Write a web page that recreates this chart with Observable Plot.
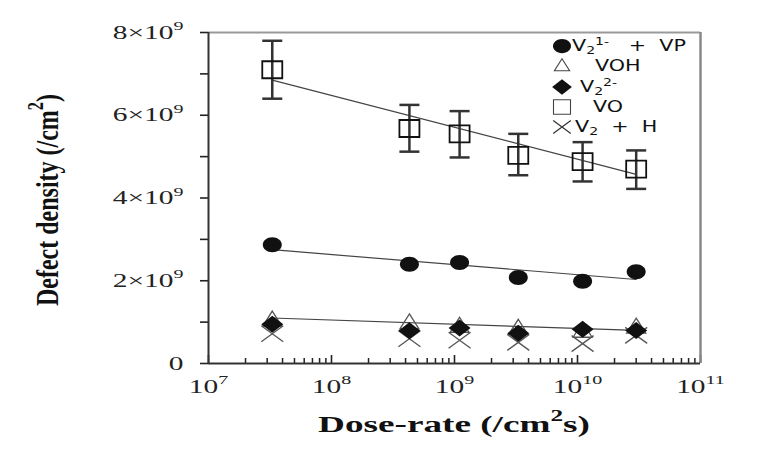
<!DOCTYPE html>
<html><head><meta charset="utf-8">
<script src="https://cdn.jsdelivr.net/npm/d3@7"></script>
<script src="https://cdn.jsdelivr.net/npm/@observablehq/plot@0.6"></script>
<style>body{margin:0;background:#fff}</style>
</head><body><div id="chart"></div>
<script>
// ---- data ----
const dose   = [3.3e7, 4.3e8, 1.1e9, 3.3e9, 1.1e10, 3.0e10];
const vo     = [7.1e9, 5.68e9, 5.55e9, 5.03e9, 4.88e9, 4.7e9];
const voHigh = [7.8e9, 6.25e9, 6.1e9, 5.55e9, 5.35e9, 5.15e9];
const voLow  = [6.4e9, 5.12e9, 4.98e9, 4.55e9, 4.4e9, 4.22e9];
const v2vp   = [2.87e9, 2.4e9, 2.44e9, 2.08e9, 1.99e9, 2.22e9];
const voh    = [1.05e9, 0.98e9, 0.9e9, 0.85e9, 0.78e9, 0.88e9];
const v2m2   = [0.95e9, 0.79e9, 0.86e9, 0.73e9, 0.83e9, 0.8e9];
const v2h    = [0.72e9, 0.6e9, 0.56e9, 0.51e9, 0.48e9, 0.68e9];
const fitX    = [3.3e7, 3.0e10];
const voFit   = [6.85e9, 4.57e9];
const v2vpFit = [2.75e9, 2.03e9];
const lowFit  = [1.1e9, 0.8e9];
const xMajorTicks = [1e7, 1e8, 1e9, 1e10, 1e11];
const xTickLabels = ["10^{7}", "10^{8}", "10^{9}", "10^{10}", "10^{11}"];
const xMinorTicks = [7, 8, 9, 10].flatMap(e => [2,3,4,5,6,7,8,9].map(m => m * 10 ** e));
const yMajorTicks = [0, 2e9, 4e9, 6e9, 8e9];
const yTickLabels = ["0", "2×10^{9}", "4×10^{9}", "6×10^{9}", "8×10^{9}"];
const yMinorTicks = [1e9, 3e9, 5e9, 7e9];
const legendLabels = ["V_{2}^{1-}   +  VP", "VOH", "V_{2}^{2-}", "VO", "V_{2}  +  H"];
const xTitle = "Dose-rate (/cm^{2}s)";
const yTitle = "Defect density (/cm^{2})";

const idx = d3.range(dose.length);

// ---- custom symbols ----
const ellipseSym = {draw(c){const rx=9.5, ry=7.5, k=0.5523;
  c.moveTo(rx,0); c.bezierCurveTo(rx,ry*k,rx*k,ry,0,ry); c.bezierCurveTo(-rx*k,ry,-rx,ry*k,-rx,0);
  c.bezierCurveTo(-rx,-ry*k,-rx*k,-ry,0,-ry); c.bezierCurveTo(rx*k,-ry,rx,-ry*k,rx,0); c.closePath();}};
const rectSym = {draw(c){c.moveTo(-10,-8.5); c.lineTo(10,-8.5); c.lineTo(10,8.5); c.lineTo(-10,8.5); c.closePath();}};
const triSym  = {draw(c){c.moveTo(0,-9); c.lineTo(9.5,6); c.lineTo(-9.5,6); c.closePath();}};
const diaSym  = {draw(c){c.moveTo(0,-8.5); c.lineTo(11,0); c.lineTo(0,8.5); c.lineTo(-11,0); c.closePath();}};
const xSym    = {draw(c){c.moveTo(-11,-8); c.lineTo(11,8); c.moveTo(-11,8); c.lineTo(11,-8);}};
const capSym  = {draw(c){c.moveTo(-10,0); c.lineTo(10,0);}};

const H = 450, MT = 32, MB = 87;
const chart = Plot.plot({
  width: 758, height: H, marginLeft: 208, marginRight: 58, marginTop: MT, marginBottom: MB,
  x: {type: "log", domain: [1e7, 1e11]},
  y: {domain: [0, 8e9]},
  style: {fontFamily: "'Liberation Serif', serif", fontSize: "19px", background: "white", color: "#222", overflow: "visible"},
  marks: [
    Plot.axisY({ticks: yMinorTicks, tickSize: 8, tickFormat: () => "", label: null, strokeWidth: 1.6}),
    Plot.axisY({ticks: yMajorTicks, tickSize: 8, tickPadding: 17, label: null, strokeWidth: 1.6,
      tickFormat: d => yTickLabels[yMajorTicks.indexOf(d)]}),
    Plot.axisX({ticks: xMajorTicks, tickSize: 0, tickPadding: 16, label: null,
      tickFormat: d => xTickLabels[xMajorTicks.indexOf(d)]}),
    Plot.ruleX(xMinorTicks, {x: d => d, insetTop: H - MT - MB - 5, stroke: "#222", strokeWidth: 1.5}),
    Plot.ruleX(xMajorTicks, {x: d => d, insetTop: H - MT - MB - 8, stroke: "#222", strokeWidth: 1.6}),
    Plot.ruleY([8e9], {stroke: "#999", strokeWidth: 2}),
    Plot.ruleX([1e11], {stroke: "#888", strokeWidth: 2.5}),
    Plot.ruleX([1e7], {stroke: "#333", strokeWidth: 2}),
    Plot.ruleY([0], {stroke: "#333", strokeWidth: 2}),
    // fit lines
    Plot.line([0, 1], {x: i => fitX[i], y: i => voFit[i], stroke: "#444", strokeWidth: 1.2}),
    Plot.line([0, 1], {x: i => fitX[i], y: i => v2vpFit[i], stroke: "#444", strokeWidth: 1.2}),
    Plot.line([0, 1], {x: i => fitX[i], y: i => lowFit[i], stroke: "#444", strokeWidth: 1.2}),
    // error bars
    Plot.ruleX(idx, {x: i => dose[i], y1: i => voLow[i], y2: i => voHigh[i], stroke: "#333", strokeWidth: 2.5}),
    Plot.dot(idx, {x: i => dose[i], y: i => voHigh[i], symbol: capSym, stroke: "#333", strokeWidth: 2.5}),
    Plot.dot(idx, {x: i => dose[i], y: i => voLow[i], symbol: capSym, stroke: "#333", strokeWidth: 2.5}),
    // points
    Plot.dot(idx, {x: i => dose[i], y: i => v2h[i], symbol: xSym, stroke: "#555", strokeWidth: 1.3}),
    Plot.dot(idx, {x: i => dose[i], y: i => voh[i], symbol: triSym, fill: "none", stroke: "#555", strokeWidth: 1.3}),
    Plot.dot(idx, {x: i => dose[i], y: i => v2m2[i], symbol: diaSym, fill: "#111", stroke: "none"}),
    Plot.dot(idx, {x: i => dose[i], y: i => v2vp[i], symbol: ellipseSym, fill: "#111", stroke: "none"}),
    Plot.dot(idx, {x: i => dose[i], y: i => vo[i], symbol: rectSym, fill: "none", stroke: "#111", strokeWidth: 1.8})
  ]
});
document.getElementById("chart").append(chart);

// ---- rich text helper (sub/superscripts as tspans) ----
function rich(sel, str, fs, subShift = 0.3) {
  sel.text(null);
  const re = /([_^])\{([^}]*)\}/g;
  let last = 0, cur = 0, m; const parts = [];
  while ((m = re.exec(str))) {
    if (m.index > last) parts.push(["n", str.slice(last, m.index)]);
    parts.push([m[1], m[2]]); last = re.lastIndex;
  }
  if (last < str.length) parts.push(["n", str.slice(last)]);
  for (const [k, s] of parts) {
    const target = k === "_" ? subShift * fs : k === "^" ? -0.45 * fs : 0;
    const ts = sel.append("tspan").attr("dy", target - cur).text(s);
    if (k !== "n") ts.attr("font-size", 0.68 * fs);
    cur = target;
  }
}
function stretchX(node, s) {
  const ax = +node.getAttribute("x") || 0;
  const tr = node.getAttribute("transform") || "";
  node.setAttribute("transform", `${tr} translate(${ax},0) scale(${s},1) translate(${-ax},0)`);
}

const svg = d3.select(chart);
svg.selectAll("text").each(function() {
  const t = d3.select(this);
  const s = t.text();
  if (s.includes("{")) rich(t, s, 19);
  stretchX(this, 1.55);
});

// axis titles
const xt = svg.append("text").attr("x", 454).attr("y", 432).attr("text-anchor", "middle")
  .attr("font-family", "'Liberation Serif', serif").attr("font-weight", "bold").attr("font-size", 24).attr("fill", "#111")
  .style("white-space", "pre");
rich(xt, xTitle, 24); stretchX(xt.node(), 1.55);

const yt = svg.append("text").attr("text-anchor", "middle")
  .attr("transform", "translate(58,200) rotate(-90) scale(1,1.35)")
  .attr("font-family", "'Liberation Serif', serif").attr("font-weight", "bold").attr("font-size", 24).attr("fill", "#111");
rich(yt, yTitle, 24);

// legend (inside top-right of frame)
const legSyms = [
  {sym: ellipseSym, fill: "#111", stroke: "none", sw: 0, k: 0.95},
  {sym: triSym, fill: "none", stroke: "#444", sw: 1.1, k: 0.8},
  {sym: diaSym, fill: "#111", stroke: "none", sw: 0, k: 0.9},
  {sym: rectSym, fill: "none", stroke: "#444", sw: 1.1, k: 0.85},
  {sym: xSym, fill: "none", stroke: "#333", sw: 1.2, k: 0.8}
];
const legRowY = [46, 66, 87, 107, 127];
const legTextX = [572, 595, 580, 593, 575];
const leg = svg.append("g");
legendLabels.forEach((lab, i) => {
  const L = legSyms[i];
  leg.append("path").attr("transform", `translate(562,${legRowY[i]}) scale(${L.k})`)
    .attr("d", d3.symbol(L.sym)()).attr("fill", L.fill).attr("stroke", L.stroke).attr("stroke-width", L.sw / L.k);
  const t = leg.append("text").attr("x", legTextX[i]).attr("y", legRowY[i] + 5.5).attr("text-anchor", "start")
    .attr("font-family", "'DejaVu Sans', sans-serif").attr("font-size", 15).attr("fill", "#111")
    .style("white-space", "pre");
  rich(t, lab, 15, 0.2);
  stretchX(t.node(), 1.38);
});
</script>
</body></html>
